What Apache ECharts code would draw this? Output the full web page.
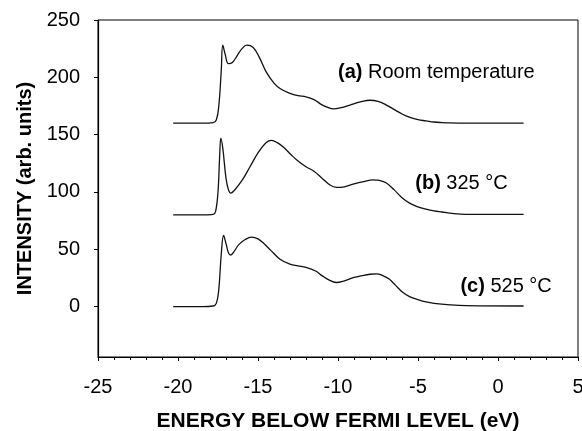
<!DOCTYPE html>
<html><head><meta charset="utf-8">
<script src="https://cdn.jsdelivr.net/npm/echarts@6/dist/echarts.min.js"></script>
<style>html,body{margin:0;padding:0;background:#fff}#c{width:582px;height:431px}</style>
</head><body><div id="c"></div>
<script>
// Curve (a) Room temperature
const xA = [-20.3, -18.5, -17.8, -17.6, -17.45, -17.3, -17.2, -17.05, -16.85, -16.6, -16.3, -16.0, -15.7, -15.3, -14.9, -14.5, -14.0, -13.6, -13.0, -12.5, -12.0, -11.5, -11.0, -10.6, -10.3, -9.8, -9.3, -8.6, -8.0, -7.5, -7.0, -6.5, -6.0, -5.5, -5.0, -4.5, -4.0, -3.5, -3.0, -2.0, 1.6];
const yA = [160, 160, 160.5, 163, 175, 205, 228, 220, 212, 213, 219, 225, 228, 226, 217, 205, 195, 190, 186, 184, 183, 180.5, 176, 173.5, 172.5, 173.5, 175.5, 178.5, 180, 179, 176, 172, 168, 165, 163, 162, 161, 160.5, 160.2, 160, 160];
// Curve (b) 325 °C
const xB = [-20.3, -18.5, -17.8, -17.65, -17.5, -17.4, -17.32, -17.2, -17.0, -16.85, -16.7, -16.5, -16.0, -15.5, -15.0, -14.5, -14.15, -13.8, -13.4, -12.9, -12.5, -12.0, -11.5, -11.0, -10.5, -10.1, -9.6, -9.0, -8.4, -7.8, -7.4, -7.0, -6.5, -6.0, -5.5, -5.0, -4.5, -4.0, -3.5, -3.0, -2.0, 1.6];
const yB = [80, 80, 80.5, 83, 100, 130, 147, 138, 112, 102, 99, 101, 110, 122, 134, 143, 145, 143, 139, 132, 127, 122, 118, 112, 106, 104, 104.5, 107, 109, 110.5, 110, 108, 102, 95, 90, 87, 85, 83.5, 82.5, 81.5, 80.5, 80.5];
// Curve (c) 525 °C
const xC = [-20.3, -18.5, -17.8, -17.6, -17.45, -17.3, -17.15, -17.0, -16.85, -16.7, -16.5, -16.2, -15.8, -15.4, -15.0, -14.6, -14.2, -13.6, -13.0, -12.5, -12.0, -11.4, -11.0, -10.6, -10.1, -9.6, -9.0, -8.5, -8.0, -7.6, -7.2, -6.8, -6.4, -6.0, -5.5, -5.0, -4.5, -4.0, -3.0, -2.0, 1.6];
const yC = [0, 0, 0.5, 3, 15, 45, 62, 55, 47, 45, 48, 54, 58.5, 60.5, 59, 54.5, 49, 41, 37, 35.5, 34.2, 31, 27, 23.5, 21, 22.5, 25.5, 27, 28.2, 28.5, 27, 24, 18.5, 13, 8.5, 6, 4, 2.8, 1.5, 0.8, 0.5];

const seriesNames = ['(a) Room temperature', '(b) 325 °C', '(c) 525 °C'];
const labelBold = ['(a)', '(b)', '(c)'];
const labelRest = ['Room temperature', '325 °C', '525 °C'];
const labelAnchorX = [-10.0, -5.17, -2.35];
const labelAnchorY = [204.4, 107.8, 17.2];

const xTicks = [-25, -20, -15, -10, -5, 0, 5];
const yTicks = [0, 50, 100, 150, 200, 250];

const FONT = "'Liberation Sans', Arial, Helvetica, sans-serif";
const chart = echarts.init(document.getElementById('c'), null, {renderer: 'canvas'});

function pairs(xs, ys) { return xs.map((x, i) => [x, ys[i]]); }
const curves = [pairs(xA, yA), pairs(xB, yB), pairs(xC, yC)];

chart.setOption({
  animation: false,
  backgroundColor: '#fff',
  grid: {left: 98, right: 4, top: 20, bottom: 74, show: true, borderColor: '#000', borderWidth: 1,
    containLabel: false, outerBoundsMode: 'none'},
  xAxis: {
    type: 'value', min: -25, max: 5, interval: 5,
    name: 'ENERGY BELOW FERMI LEVEL (eV)', nameLocation: 'middle', nameGap: 54,
    nameTextStyle: {fontFamily: FONT, fontWeight: 'bold', fontSize: 21, color: '#000'},
    axisLine: {onZero: false, lineStyle: {color: '#000', width: 1.2}},
    axisTick: {show: true, inside: false, length: 4, lineStyle: {color: '#000'}},
    minorTick: {show: true, splitNumber: 5, length: 3, lineStyle: {color: '#000'}},
    axisLabel: {fontFamily: FONT, fontSize: 20, color: '#000', margin: 20,
      customValues: xTicks},
    splitLine: {show: false}, minorSplitLine: {show: false}
  },
  yAxis: {
    type: 'value', min: -44, max: 250,
    name: 'INTENSITY (arb. units)', nameLocation: 'middle', nameGap: 62,
    nameTextStyle: {fontFamily: FONT, fontWeight: 'bold', fontSize: 20, color: '#000'},
    axisLine: {show: true, onZero: false, lineStyle: {color: '#000', width: 1.2}},
    axisTick: {show: true, inside: false, length: 4, lineStyle: {color: '#000'}, customValues: yTicks},
    axisLabel: {fontFamily: FONT, fontSize: 20, color: '#000', margin: 18, customValues: yTicks},
    splitLine: {show: false}
  },
  series: curves.map((d, i) => ({
    name: seriesNames[i], type: 'line', data: d, showSymbol: false, symbol: 'none',
    smooth: 0.4, lineStyle: {color: '#111', width: 1.3}
  }))
});

const graphics = labelBold.map((b, i) => {
  const p = chart.convertToPixel({gridIndex: 0}, [labelAnchorX[i], labelAnchorY[i]]);
  return {
    type: 'text', x: p[0], y: p[1],
    style: {
      text: '{b|' + b + '} ' + labelRest[i],
      font: '20px ' + FONT, fill: '#000', align: 'left', verticalAlign: 'middle',
      rich: {b: {fontWeight: 'bold', fontSize: 20, fontFamily: FONT, fill: '#000'}}
    }
  };
});
chart.setOption({graphic: graphics});
</script>
</body></html>
